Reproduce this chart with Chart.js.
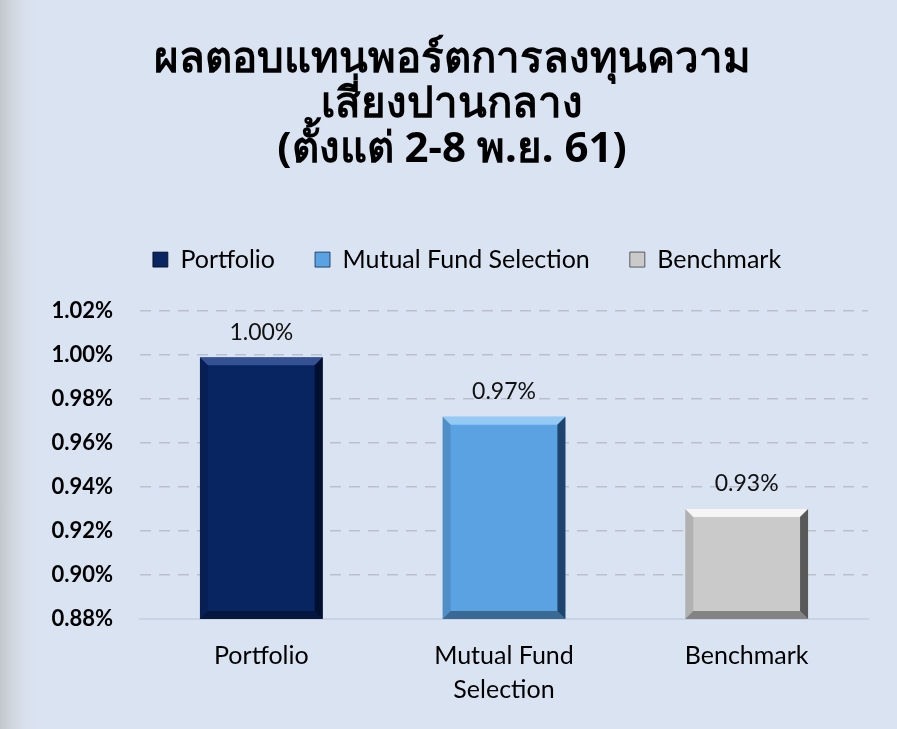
<!DOCTYPE html>
<html>
<head>
<meta charset="utf-8">
<script src="https://cdn.jsdelivr.net/npm/chart.js@4.4.1/dist/chart.umd.min.js"></script>
<style>
  html, body { margin: 0; padding: 0; }
  body {
    width: 897px; height: 729px; overflow: hidden;
    background: linear-gradient(to right, #c3c7cd 0px, #d0d6de 12px, #d9e1ef 26px, #dae3f2 40px);
  }
  #wrap { position: relative; width: 897px; height: 729px; }
</style>
</head>
<body>
<div id="wrap"><canvas id="returnChart"></canvas></div>
<script>
const categories = [['Portfolio'], ['Mutual Fund', 'Selection'], ['Benchmark']];
const legendNames = ['Portfolio', 'Mutual Fund Selection', 'Benchmark'];
const returns = [0.999, 0.972, 0.930];
const valueLabels = ['1.00%', '0.97%', '0.93%'];
const titleLines = ['ผลตอบแทนพอร์ตการลงทุนความ', 'เสี่ยงปานกลาง', '(ตั้งแต่ 2-8 พ.ย. 61)'];

const barColors = ['#082461', '#5aa2e2', '#cacaca'];
const bevelLight = ['rgba(90,120,190,0.55)', 'rgba(170,215,250,0.75)', 'rgba(250,250,250,0.9)'];
const bevelDark = ['rgba(0,8,30,0.75)', 'rgba(15,45,80,0.8)', 'rgba(60,60,60,0.8)'];

const font = 'Lato, "Open Sans", sans-serif';

// pushes the plot down below the legend, nudges title/legend right
const legendGap = {
  id: 'legendGap',
  beforeInit(chart) {
    const orig = chart.legend.fit;
    chart.legend.fit = function () {
      orig.bind(chart.legend)();
      this.height += 29;
    };
  },
  afterLayout(chart) {
    chart.legend.left += 33;
    chart.legend.right += 33;
    chart.titleBlock.left += 18;
    chart.titleBlock.right += 18;
  }
};

// bevel edges and value labels on each bar
const barDecor = {
  id: 'barDecor',
  afterDatasetsDraw(chart) {
    const ctx = chart.ctx;
    const meta = chart.getDatasetMeta(0);
    meta.data.forEach((bar, i) => {
      const p = bar.getProps(['x', 'y', 'width', 'base'], true);
      const l = p.x - p.width / 2, r = p.x + p.width / 2, t = p.y;
      const b = Math.min(p.base, chart.chartArea.bottom);
      const e = 8;
      ctx.save();
      ctx.beginPath();
      ctx.rect(chart.chartArea.left, chart.chartArea.top - 40, chart.chartArea.width, chart.chartArea.height + 40);
      ctx.clip();
      // top
      ctx.fillStyle = bevelLight[i];
      ctx.beginPath();
      ctx.moveTo(l, t); ctx.lineTo(r, t); ctx.lineTo(r - e, t + e); ctx.lineTo(l + e, t + e);
      ctx.fill();
      // left
      ctx.fillStyle = 'rgba(0,0,0,0.12)';
      ctx.beginPath();
      ctx.moveTo(l, t); ctx.lineTo(l + e, t + e); ctx.lineTo(l + e, b - e); ctx.lineTo(l, b);
      ctx.fill();
      // right
      ctx.fillStyle = bevelDark[i];
      ctx.beginPath();
      ctx.moveTo(r, t); ctx.lineTo(r, b); ctx.lineTo(r - e, b - e); ctx.lineTo(r - e, t + e);
      ctx.fill();
      // bottom
      ctx.fillStyle = 'rgba(0,0,0,0.35)';
      ctx.beginPath();
      ctx.moveTo(l, b); ctx.lineTo(r, b); ctx.lineTo(r - e, b - e); ctx.lineTo(l + e, b - e);
      ctx.fill();
      ctx.restore();
      // label
      ctx.save();
      ctx.fillStyle = '#111';
      ctx.font = '23px ' + font;
      ctx.textAlign = 'center';
      ctx.textBaseline = 'middle';
      ctx.fillText(valueLabels[i], p.x, t - 25);
      ctx.restore();
    });
  }
};

new Chart(document.getElementById('returnChart').getContext('2d'), {
  type: 'bar',
  data: {
    labels: categories,
    datasets: [{
      label: 'Return',
      data: returns,
      backgroundColor: barColors,
      borderWidth: 0,
      categoryPercentage: 1,
      barPercentage: 0.506
    }]
  },
  options: {
    responsive: true,
    maintainAspectRatio: false,
    animation: false,
    layout: { padding: { left: 0, right: 29, top: 0, bottom: 10 } },
    plugins: {
      title: {
        display: true,
        text: titleLines,
        color: '#000',
        font: { family: 'Tahoma, "Noto Sans", "DejaVu Sans", sans-serif', size: 42, weight: 'bold', lineHeight: 1.08 },
        padding: { top: 37, bottom: 34 }
      },
      legend: {
        display: true,
        labels: {
          color: '#000',
          font: { family: font, size: 25 },
          boxWidth: 15,
          boxHeight: 15,
          padding: 40,
          generateLabels: () => legendNames.map((n, i) => ({
            text: n,
            fillStyle: barColors[i],
            strokeStyle: bevelDark[i],
            lineWidth: 1,
            index: i
          }))
        },
        onClick: null
      },
      tooltip: { enabled: false }
    },
    scales: {
      x: {
        grid: { display: false },
        border: { display: true, color: '#c9d3e3', width: 2 },
        ticks: {
          color: '#000',
          font: { family: font, size: 25, lineHeight: 1.36 },
          padding: 12
        }
      },
      y: {
        min: 0.88,
        max: 1.02,
        afterFit: s => { s.width = 140; },
        grid: { color: '#b9c0cb', lineWidth: 1.5, drawTicks: false },
        border: { display: false, dash: [11, 8] },
        ticks: {
          stepSize: 0.02,
          color: '#000',
          padding: 27,
          font: { family: font, size: 22, weight: 'bold' },
          callback: v => v.toFixed(2) + '%'
        }
      }
    }
  },
  plugins: [legendGap, barDecor]
});
</script>
</body>
</html>
